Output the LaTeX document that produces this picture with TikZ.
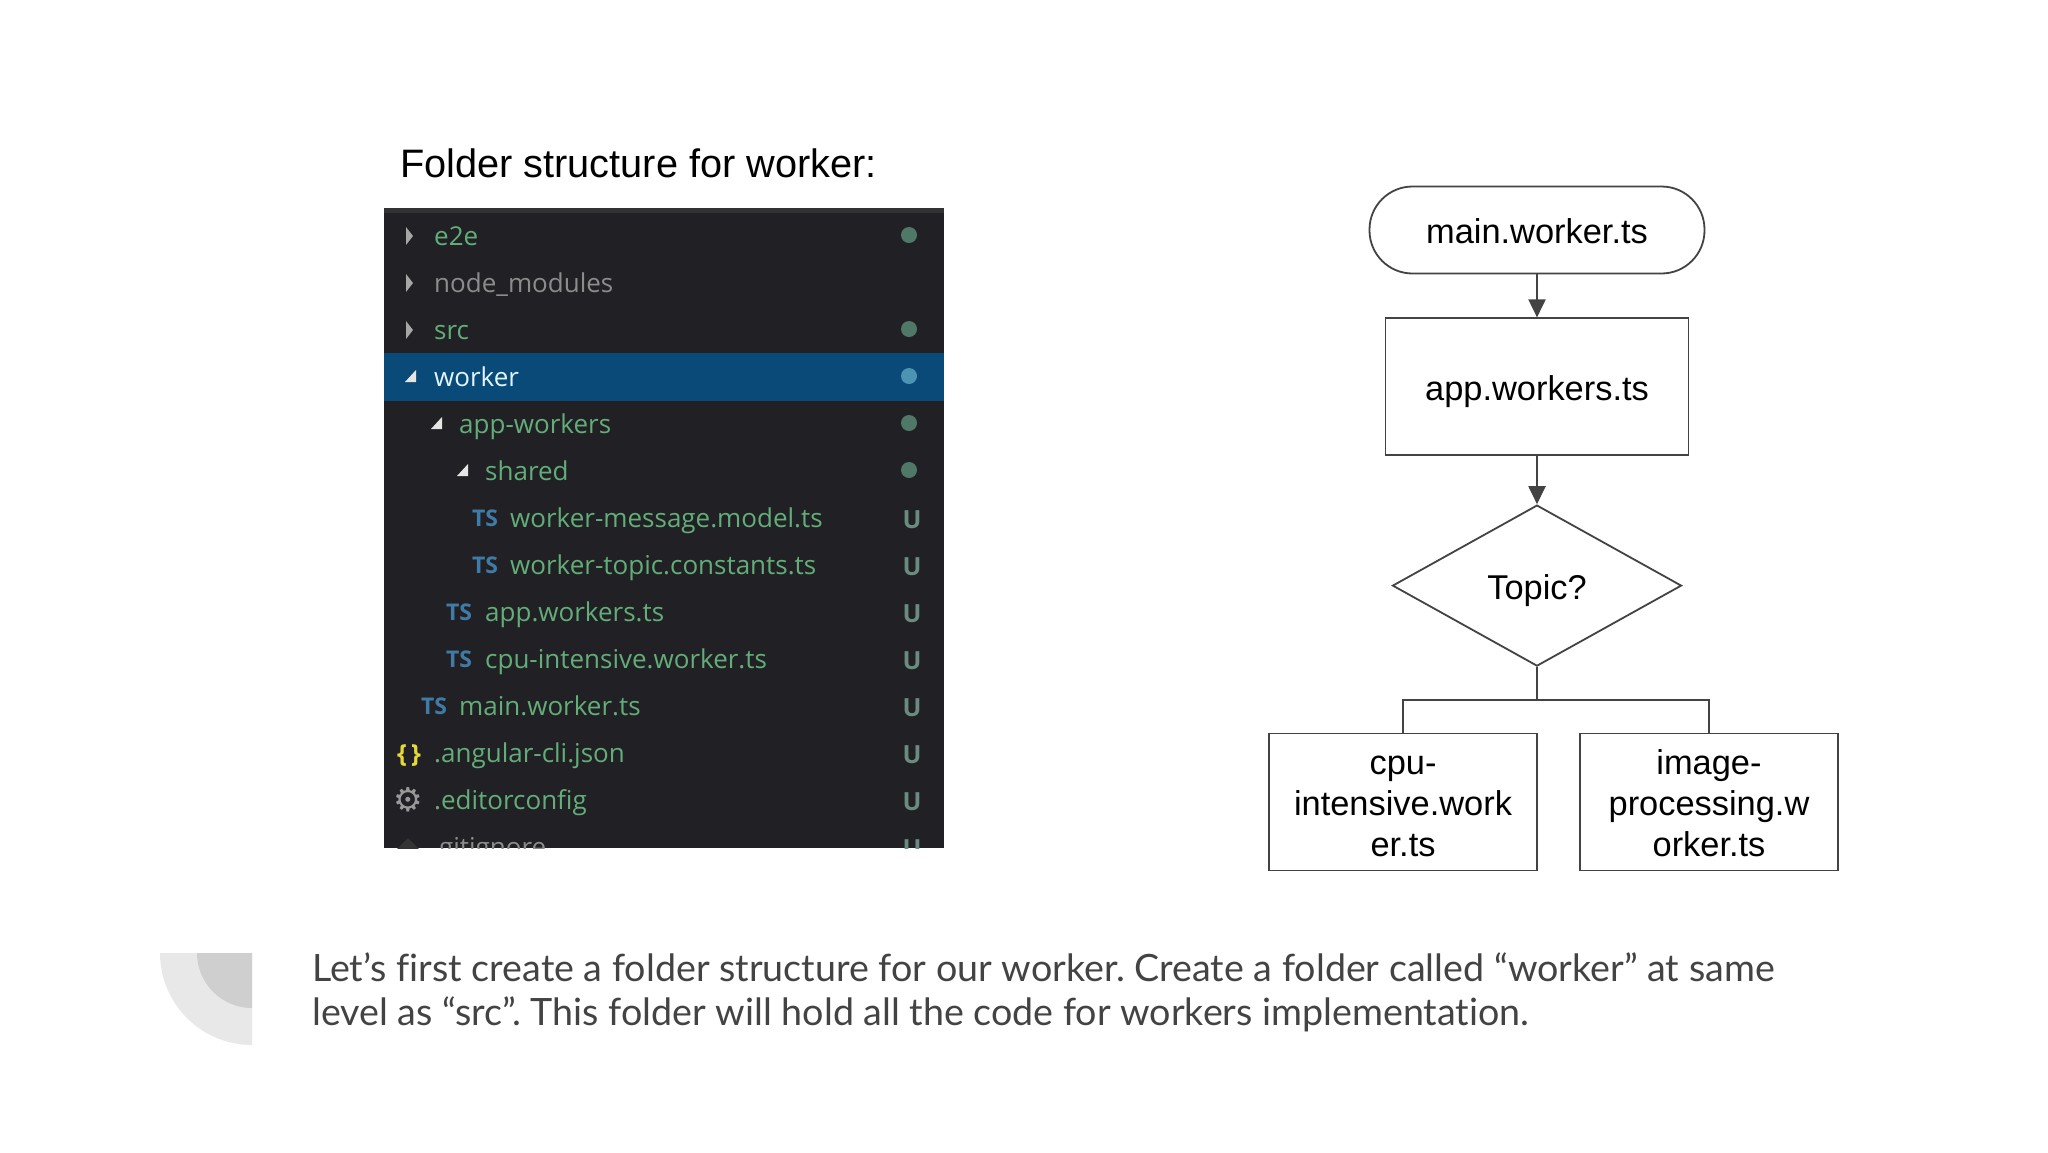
\documentclass[tikz,border=0pt]{standalone}
\usepackage{xcolor}
\usepackage{fontspec}
\setmainfont{Liberation Sans}
\newfontfamily\panelfont{Open Sans}
\newfontfamily\notefont[Ligatures=NoCommon]{Lato}
\newfontfamily\symbfont{DejaVu Sans}
\usepackage{tikz}
\usetikzlibrary{shapes.geometric, arrows.meta, positioning}
\definecolor{linegray}{HTML}{434343}
\definecolor{panelbg}{HTML}{212125}
\definecolor{paneltop}{HTML}{323234}
\definecolor{rowblue}{HTML}{0A4A78}
\definecolor{gitgreen}{HTML}{62AD78}
\definecolor{dimgray}{HTML}{8C8C8C}
\definecolor{dotgreen}{HTML}{4F7868}
\definecolor{tsblue}{HTML}{3F7BA6}
\tikzstyle{flowfont} = [font=\fontsize{34.4}{41}\selectfont, text=black, align=center]
\tikzstyle{oneline} = [text height=30pt, text depth=3pt]
\tikzstyle{terminal} = [rectangle, rounded corners=43pt, minimum width=335pt, minimum height=87pt, draw=linegray, line width=1.8pt, flowfont, oneline]
\tikzstyle{process} = [rectangle, minimum height=137pt, inner ysep=0pt, draw=linegray, line width=1.8pt, flowfont]
\tikzstyle{decision} = [diamond, minimum width=289pt, minimum height=161pt, inner sep=0pt, draw=linegray, line width=1.8pt, flowfont, oneline]
\tikzstyle{arrow} = [line width=2pt, draw=linegray, -{Triangle[length=18pt, width=17pt]}]
\tikzstyle{branch} = [line width=1.8pt, draw=linegray]
\tikzstyle{filename} = [anchor=base west, inner sep=0pt, text=gitgreen, font=\panelfont\fontsize{26}{30}\selectfont]
\tikzstyle{tsicon} = [anchor=base, inner sep=0pt, text=tsblue, font=\panelfont\bfseries\fontsize{23}{24}\selectfont]
\tikzstyle{gitmark} = [anchor=base, inner sep=0pt, text=dotgreen!85!white, font=\panelfont\bfseries\fontsize{25}{30}\selectfont]
\tikzstyle{gitdot} = [circle, minimum size=16pt, inner sep=0pt, fill=dotgreen]
\tikzstyle{notetext} = [anchor=base west, inner sep=0pt, text=linegray, font=\notefont\frenchspacing\fontsize{37.63}{44}\selectfont]

\begin{document}
\begin{tikzpicture}[x=1pt, y=-1pt]
\useasboundingbox (0,0) rectangle (2048,1152);
\fill[white] (0,0) rectangle (2048,1152);

% title
\node (title) [anchor=base west, inner sep=0pt, font=\fontsize{39.7}{48}\selectfont] at (400,177) {Folder structure for worker:};

% explorer panel
\fill[panelbg] (384,208) rectangle (944,848);
\fill[paneltop] (384,208) rectangle (944,213);
\fill[rowblue] (384,353) rectangle (944,401);
\begin{scope}
\clip (384,208) rectangle (944,848);

\fill[gray!70!white] (406,227) -- (413,236) -- (406,245) -- cycle;
\fill[gray!70!white] (406,274) -- (413,283) -- (406,292) -- cycle;
\fill[gray!70!white] (406,321) -- (413,330) -- (406,339) -- cycle;
\fill[white!90!black] (416,370) -- (416,382) -- (405,382) -- cycle;
\fill[white!90!black] (442,417) -- (442,429) -- (431,429) -- cycle;
\fill[white!90!black] (468,464) -- (468,476) -- (457,476) -- cycle;

\node (e2e) [filename] at (434,245) {e2e};
\node (modules) [filename, text=dimgray] at (434,292) {node\_modules};
\node (src) [filename] at (434,339) {src};
\node (worker) [filename, text=cyan!12!white] at (434,386) {worker};
\node (appfolder) [filename] at (459,433) {app-workers};
\node (shared) [filename] at (485,480) {shared};
\node (message) [filename] at (510,527) {worker-message.model.ts};
\node (constants) [filename] at (510,574) {worker-topic.constants.ts};
\node (appfile) [filename] at (485,621) {app.workers.ts};
\node (cpufile) [filename] at (485,668) {cpu-intensive.worker.ts};
\node (mainfile) [filename] at (459,715) {main.worker.ts};
\node (angular) [filename] at (434,762) {.angular-cli.json};
\node (editor) [filename] at (434,809) {.editorconfig};
\node (gitignore) [filename, text=dimgray] at (432,856) {.gitignore};

\node (tsmessage) [tsicon] at (485,526) {TS};
\node (tsconstants) [tsicon] at (485,573) {TS};
\node (tsapp) [tsicon] at (459,620) {TS};
\node (tscpu) [tsicon] at (459,667) {TS};
\node (tsmain) [tsicon] at (434,714) {TS};
\node (braces) [anchor=base, inner sep=0pt, text=yellow!75!gray, font=\panelfont\bfseries\fontsize{25}{30}\selectfont] at (409,762) {\{\,\}};
\node (gear) [anchor=base, inner sep=0pt, text=gray!80!white, font=\symbfont\fontsize{33}{36}\selectfont] at (408,811) {⚙};
\node (gitdiamond) [diamond, minimum size=22pt, inner sep=0pt, fill=gray!40!black] at (408,849) {};

\node (dote2e) [gitdot] at (909,235) {};
\node (dotsrc) [gitdot] at (909,329) {};
\node (dotworker) [gitdot, fill=blue!30!cyan!40!gray] at (909,376) {};
\node (dotapp) [gitdot] at (909,423) {};
\node (dotshared) [gitdot] at (909,470) {};

\node (umessage) [gitmark] at (912,528) {U};
\node (uconstants) [gitmark] at (912,575) {U};
\node (uapp) [gitmark] at (912,622) {U};
\node (ucpu) [gitmark] at (912,669) {U};
\node (umain) [gitmark] at (912,716) {U};
\node (uangular) [gitmark] at (912,763) {U};
\node (ueditor) [gitmark] at (912,810) {U};
\node (ugit) [gitmark] at (912,857) {U};
\end{scope}

% flow chart
\node (mainworker) [terminal] at (1537,230) {main.worker.ts};
\node (appworkers) [process, oneline, minimum width=303pt, below=43pt of mainworker] {app.workers.ts};
\node (topic) [decision, below=48pt of appworkers] {Topic?};
\node (cpu) [process, minimum width=268pt] at (1403,802) {\rule{0pt}{39pt}cpu-\\intensive.work\\er.ts\strut};
\node (image) [process, minimum width=258pt] at (1709,802) {\rule{0pt}{39pt}image-\\processing.w\\orker.ts\strut};

\draw [arrow] (mainworker) -- (appworkers);
\draw [arrow] (appworkers) -- (topic);
\draw [branch] (topic.south) -- ++(0,33) -| (cpu.north);
\draw [branch] (topic.south) -- ++(0,33) -| (image.north);

% note at the bottom
\fill[gray!18!white] (252,953) -- (160,953) arc[start angle=180, end angle=90, radius=92] -- cycle;
\fill[gray!38!white] (252,953) -- (197,953) arc[start angle=180, end angle=90, radius=55] -- cycle;
\node (noteone) [notetext] at (312,981) {Let’s first create a folder structure for our worker. Create a folder called “worker” at same};
\node (notetwo) [notetext] at (312,1025) {level as “src”. This folder will hold all the code for workers implementation.};

\end{tikzpicture}
\end{document}
